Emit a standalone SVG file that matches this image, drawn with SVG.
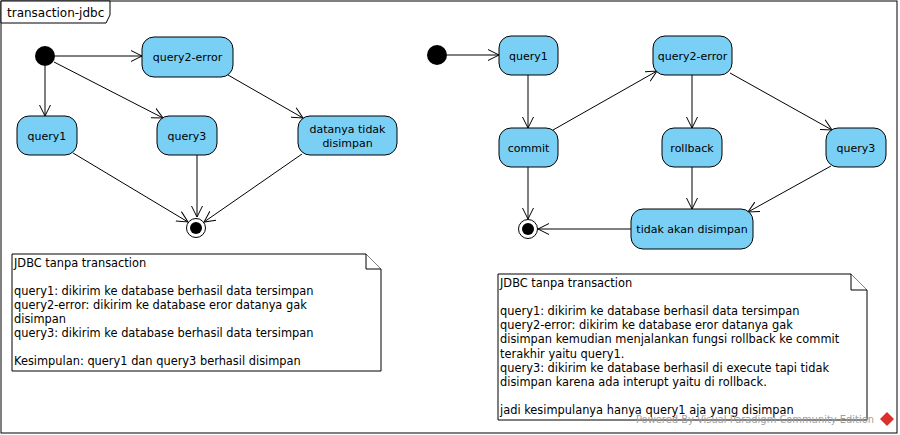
<svg xmlns="http://www.w3.org/2000/svg" width="900" height="435" viewBox="0 0 900 435">
<defs>
<marker id="arr" viewBox="0 0 12 12" refX="11" refY="6" markerWidth="12" markerHeight="12" markerUnits="userSpaceOnUse" orient="auto">
<path d="M0,0.5 L11,6 L0,11.5" fill="none" stroke="#000" stroke-width="1"/>
</marker>
</defs>
<style>
.node rect{fill:#7ACFF5;stroke:#000;stroke-width:1}
.lbl{font-family:"DejaVu Sans",sans-serif;font-size:11px;fill:#000;text-anchor:middle}
.edges line{stroke:#000;stroke-width:1;marker-end:url(#arr)}
.note path{fill:#fff;stroke:#000;stroke-width:1}
.nt{font-family:"DejaVu Sans",sans-serif;font-size:11.4px;fill:#000}
</style>
<rect x="0" y="0" width="900" height="435" fill="#fff"/>
<g id="frame">
<rect x="1" y="1" width="896" height="432" fill="#fff" stroke="#000" stroke-width="1"/>
<path d="M1,1 H110 V15 L106,23 H1 Z" fill="#fff" stroke="#000" stroke-width="1"/>
<text x="7" y="17" font-family="DejaVu Sans, sans-serif" font-size="12" fill="#000">transaction-jdbc</text>
</g>
<g class="edges" id="connectors">
<line x1="55" y1="56" x2="142" y2="56"/>
<line x1="45" y1="66" x2="45" y2="116"/>
<line x1="54" y1="62" x2="163" y2="118"/>
<line x1="228" y1="75" x2="303" y2="118"/>
<line x1="73" y1="153" x2="188" y2="222"/>
<line x1="197" y1="155" x2="197" y2="217"/>
<line x1="302" y1="154" x2="204" y2="222"/>
<line x1="447" y1="55" x2="499" y2="55"/>
<line x1="528" y1="75" x2="528" y2="128"/>
<line x1="553" y1="130" x2="657" y2="71"/>
<line x1="692" y1="75" x2="692" y2="128"/>
<line x1="730" y1="73" x2="832" y2="130"/>
<line x1="692" y1="167" x2="692" y2="209"/>
<line x1="831" y1="166" x2="748" y2="212"/>
<line x1="528" y1="167" x2="528" y2="219"/>
<line x1="631" y1="229" x2="538" y2="229"/>
</g>
<g id="start1"><circle cx="45" cy="56" r="10" fill="#000"/></g>
<g id="query2error1" class="node"><rect x="142" y="37" width="91" height="40" rx="12"/><text class="lbl" x="187.5" y="61">query2-error</text></g>
<g id="query1a" class="node"><rect x="17" y="116" width="60" height="39" rx="12"/><text class="lbl" x="47" y="139.5">query1</text></g>
<g id="query3a" class="node"><rect x="157" y="116" width="60" height="39" rx="12"/><text class="lbl" x="187" y="139.5">query3</text></g>
<g id="datanya" class="node"><rect x="298" y="116" width="99" height="39" rx="12"/><text class="lbl" x="347.5" y="132.5">datanya tidak</text><text class="lbl" x="347.5" y="146.5">disimpan</text></g>
<g id="end1"><circle cx="196" cy="228" r="9.5" fill="#fff" stroke="#000" stroke-width="1"/><circle cx="196" cy="228" r="6" fill="#000"/></g>
<g id="start2"><circle cx="437" cy="55" r="10" fill="#000"/></g>
<g id="query1b" class="node"><rect x="499" y="36" width="59" height="39" rx="12"/><text class="lbl" x="528.5" y="59.5">query1</text></g>
<g id="query2error2" class="node"><rect x="653" y="36" width="79" height="39" rx="12"/><text class="lbl" x="692.5" y="59.5">query2-error</text></g>
<g id="commit" class="node"><rect x="499" y="128" width="59" height="39" rx="12"/><text class="lbl" x="528.5" y="151.5">commit</text></g>
<g id="rollback" class="node"><rect x="662" y="128" width="60" height="39" rx="12"/><text class="lbl" x="692" y="151.5">rollback</text></g>
<g id="query3b" class="node"><rect x="826" y="128" width="60" height="39" rx="12"/><text class="lbl" x="856" y="151.5">query3</text></g>
<g id="tidak" class="node"><rect x="631" y="209" width="122" height="40" rx="12"/><text class="lbl" x="692" y="233">tidak akan disimpan</text></g>
<g id="end2"><circle cx="528" cy="229" r="9.5" fill="#fff" stroke="#000" stroke-width="1"/><circle cx="528" cy="229" r="6" fill="#000"/></g>
<g id="note1" class="note">
<path d="M12,254 H366 L381,269 V371 H12 Z"/>
<path d="M366,254 V269 H381" fill="none"/>
<text class="nt" x="14" y="267">JDBC tanpa transaction</text>
<text class="nt" x="14" y="295">query1: dikirim ke database berhasil data tersimpan</text>
<text class="nt" x="14" y="309">query2-error: dikirim ke database eror datanya gak</text>
<text class="nt" x="14" y="323">disimpan</text>
<text class="nt" x="14" y="337">query3: dikirim ke database berhasil data tersimpan</text>
<text class="nt" x="14" y="365">Kesimpulan: query1 dan query3 berhasil disimpan</text>
</g>
<g id="note2" class="note">
<path d="M498,274 H851 L867,290 V420 H498 Z"/>
<path d="M851,274 V290 H867" fill="none"/>
<text class="nt" x="500" y="287">JDBC tanpa transaction</text>
<text class="nt" x="500" y="315">query1: dikirim ke database berhasil data tersimpan</text>
<text class="nt" x="500" y="329">query2-error: dikirim ke database eror datanya gak</text>
<text class="nt" x="500" y="343">disimpan kemudian menjalankan fungsi rollback ke commit</text>
<text class="nt" x="500" y="357.5">terakhir yaitu query1.</text>
<text class="nt" x="500" y="371.5">query3: dikirim ke database berhasil di execute tapi tidak</text>
<text class="nt" x="500" y="386">disimpan karena ada interupt yaitu di rollback.</text>
<text class="nt" x="500" y="414">jadi kesimpulanya hanya query1 aja yang disimpan</text>
</g>
<g id="watermark">
<text x="636" y="423" font-family="DejaVu Sans, sans-serif" font-size="10" fill="#a0a0a0" textLength="238" lengthAdjust="spacingAndGlyphs">Powered By Visual Paradigm Community Edition</text>
<path d="M887,412 L894,419 L887,426 L880,419 Z" fill="#d9302c"/>
</g>
</svg>
